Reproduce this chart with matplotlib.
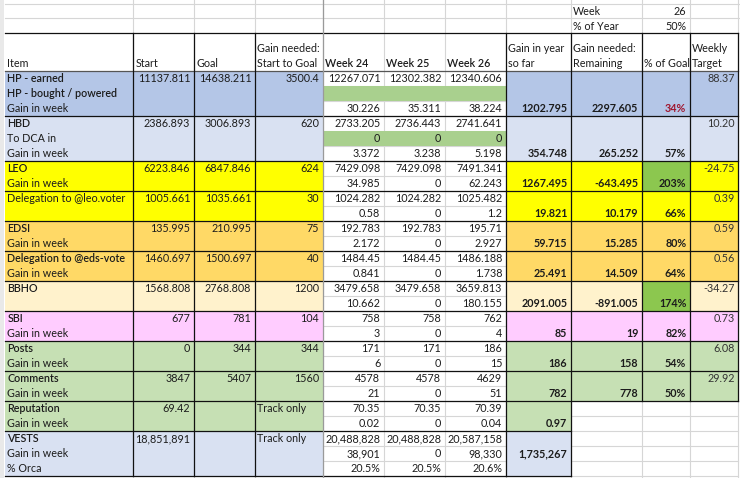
import matplotlib
matplotlib.use("Agg")
import matplotlib.pyplot as plt
from matplotlib.patches import Rectangle

plt.rcParams["font.family"] = ["Lato", "DejaVu Sans"]

# table values, one entry per sheet row
items = ["HP - earned", "HP - bought / powered", "Gain in week",
         "HBD", "To DCA in", "Gain in week",
         "LEO", "Gain in week",
         "Delegation to @leo.voter", "",
         "EDSI", "Gain in week",
         "Delegation to @eds-vote", "Gain in week",
         "BBHO", "",
         "SBI", "Gain in week",
         "Posts", "Gain in week",
         "Comments", "Gain in week",
         "Reputation", "Gain in week",
         "VESTS", "Gain in week", "% Orca"]
start = ["11137.811", "", "", "2386.893", "", "", "6223.846", "", "1005.661", "",
         "135.995", "", "1460.697", "", "1568.808", "", "677", "", "0", "",
         "3847", "", "69.42", "", "18,851,891", "", ""]
goal = ["14638.211", "", "", "3006.893", "", "", "6847.846", "", "1035.661", "",
        "210.995", "", "1500.697", "", "2768.808", "", "781", "", "344", "",
        "5407", "", "", "", "", "", ""]
gain_needed = ["3500.4", "", "", "620", "", "", "624", "", "30", "",
               "75", "", "40", "", "1200", "", "104", "", "344", "",
               "1560", "", "Track only", "", "Track only", "", ""]
week24 = ["12267.071", "", "30.226", "2733.205", "0", "3.372", "7429.098", "34.985",
          "1024.282", "0.58", "192.783", "2.172", "1484.45", "0.841", "3479.658", "10.662",
          "758", "3", "171", "6", "4578", "21", "70.35", "0.02",
          "20,488,828", "38,901", "20.5%"]
week25 = ["12302.382", "", "35.311", "2736.443", "0", "3.238", "7429.098", "0",
          "1024.282", "0", "192.783", "0", "1484.45", "0", "3479.658", "0",
          "758", "0", "171", "0", "4578", "0", "70.35", "0",
          "20,488,828", "0", "20.5%"]
week26 = ["12340.606", "", "38.224", "2741.641", "0", "5.198", "7491.341", "62.243",
          "1025.482", "1.2", "195.71", "2.927", "1486.188", "1.738", "3659.813", "180.155",
          "762", "4", "186", "15", "4629", "51", "70.39", "0.04",
          "20,587,158", "98,330", "20.6%"]
gain_year = ["", "", "1202.795", "", "", "354.748", "", "1267.495", "", "19.821",
             "", "59.715", "", "25.491", "", "2091.005", "", "85", "", "186",
             "", "782", "", "0.97", "", "1,735,267", ""]
gain_remaining = ["", "", "2297.605", "", "", "265.252", "", "-643.495", "", "10.179",
                  "", "15.285", "", "14.509", "", "-891.005", "", "19", "", "158",
                  "", "778", "", "", "", "", ""]
pct_goal = ["", "", "34%", "", "", "57%", "", "203%", "", "66%",
            "", "80%", "", "64%", "", "174%", "", "82%", "", "54%",
            "", "50%", "", "", "", "", ""]
weekly_target = ["88.37", "", "", "10.20", "", "", "-24.75", "", "0.39", "",
                 "0.59", "", "0.56", "", "-34.27", "", "0.73", "", "6.08", "",
                 "29.92", "", "", "", "", "", ""]
bold_items = ["HP - earned", "HP - bought / powered", "HBD", "LEO", "EDSI",
              "Delegation to @eds-vote", "BBHO", "SBI", "Posts", "Comments",
              "Reputation", "VESTS"]

section_rows = [3, 3, 2, 2, 2, 2, 2, 2, 2, 2, 2, 3]
section_colors = ["#B4C6E7", "#D9E1F2", "#FFFF00", "#FFFF00", "#FFD966", "#FFD966",
                  "#FFF2CC", "#FFCCFF", "#C6E0B4", "#C6E0B4", "#C6E0B4", "#D9E1F2"]
header_top = ["", "", "", "Gain needed:", "", "", "", "Gain in year", "Gain needed:", "", "Weekly"]
header_bottom = ["Item", "Start", "Goal", "Start to Goal", "Week 24", "Week 25", "Week 26",
                 "so far", "Remaining", "% of Goal", "Target"]

# sheet layout in pixels
col_x = [4.7, 132.7, 193.7, 254.7, 322.7, 383.7, 444.7, 505.7, 570.7, 641.7, 689.7, 738]
row_h = 15.0
body_top = 70.7
body_rows = sum(section_rows)
grid_color = "#D6D6D6"
black = "#111111"
text_color = "#1c1c1c"
font_size = 7.75

fig = plt.figure(figsize=(7.4, 4.78), dpi=100)
ax = fig.add_axes([0, 0, 1, 1])
ax.set_xlim(0, 740)
ax.set_ylim(478, 0)
ax.axis("off")


def row_y(i):
    return body_top + i * row_h


def fill(x0, x1, y0, y1, color):
    ax.add_patch(Rectangle((x0, y0), x1 - x0, y1 - y0, fc=color, ec="none", zorder=1))


def put(col, y_bottom, s, right=False, weight="normal", color=text_color):
    if not s:
        return
    if right:
        x, ha = col_x[col + 1] - 3.4, "right"
    else:
        x, ha = col_x[col] + 2.6, "left"
    ax.text(x, y_bottom - 3.6, s, ha=ha, va="baseline", fontsize=font_size,
            fontweight=weight, color=color, zorder=5)


# gutter and light sheet grid, all below the fills
fill(0, 4.2, 0, 478, "#E9E9E9")
for y in [3.5, 18.3]:
    ax.plot([4.7, 740], [y, y], color=grid_color, lw=0.8, zorder=0.5)
for i in range(body_rows + 1):
    ax.plot([322.7, 738], [row_y(i)] * 2, color=grid_color, lw=0.8, zorder=0.5)
for x in col_x[1:]:
    ax.plot([x, x], [0, 478], color=grid_color, lw=0.8, zorder=0.5)

# section fills and borders
row = 0
for n, color in zip(section_rows, section_colors):
    y0, y1 = row_y(row), row_y(row + n)
    fill(col_x[0], col_x[4], y0, y1, color)
    # reputation and vests only fill the first summary column
    right_edge = col_x[8] if row >= 22 else col_x[-1]
    fill(col_x[7], right_edge, y0, y1, color)
    ax.plot([col_x[0], right_edge], [y1, y1], color=black, lw=0.9, zorder=3)
    row += n

# green helper rows in the week columns
for i in [1, 4]:
    fill(col_x[4], col_x[7], row_y(i), row_y(i + 1), "#A9D08E")
# goal reached cells
for i in [6, 14]:
    fill(col_x[9], col_x[10], row_y(i), row_y(i + 2), "#8CC74F")

ax.plot([4.7, 738], [33.4, 33.4], color=black, lw=0.9, zorder=3)
ax.plot([4.7, 738], [body_top, body_top], color="#555555", lw=0.9, zorder=3)
for x in col_x[1:4] + col_x[7:9]:
    ax.plot([x, x], [33.4, row_y(body_rows)], color=black, lw=0.9, zorder=3)
for x in col_x[9:]:
    ax.plot([x, x], [33.4, row_y(22)], color=black, lw=0.9, zorder=3)
ax.plot([col_x[4]] * 2, [0, 478], color="#9A9A9A", lw=0.9, zorder=3)

# week / % of year box
put(8, 18.3, "Week")
put(9, 18.3, "26", right=True)
put(8, 33.3, "% of Year")
put(9, 33.3, "50%", right=True)

# header
for c, (a, b) in enumerate(zip(header_top, header_bottom)):
    put(c, body_top - row_h, a)
    put(c, body_top, b, weight=600 if c in (4, 5, 6) else "normal")

# body text
plain_cols = [start, goal, gain_needed, week24, week25, week26]
for i in range(body_rows):
    y = row_y(i + 1)
    put(0, y, items[i], weight=600 if items[i] in bold_items else "normal")
    for c, values in enumerate(plain_cols, start=1):
        s = values[i]
        put(c, y, s, right=s != "Track only")
    put(7, y, gain_year[i], right=True, weight="bold")
    put(8, y, gain_remaining[i], right=True, weight="bold")
    put(9, y, pct_goal[i], right=True, weight="bold", color="#A0162E" if pct_goal[i] == "34%" else text_color)
    put(10, y, weekly_target[i], right=True, color="#333333")

fig.savefig("out.png", dpi=100)
